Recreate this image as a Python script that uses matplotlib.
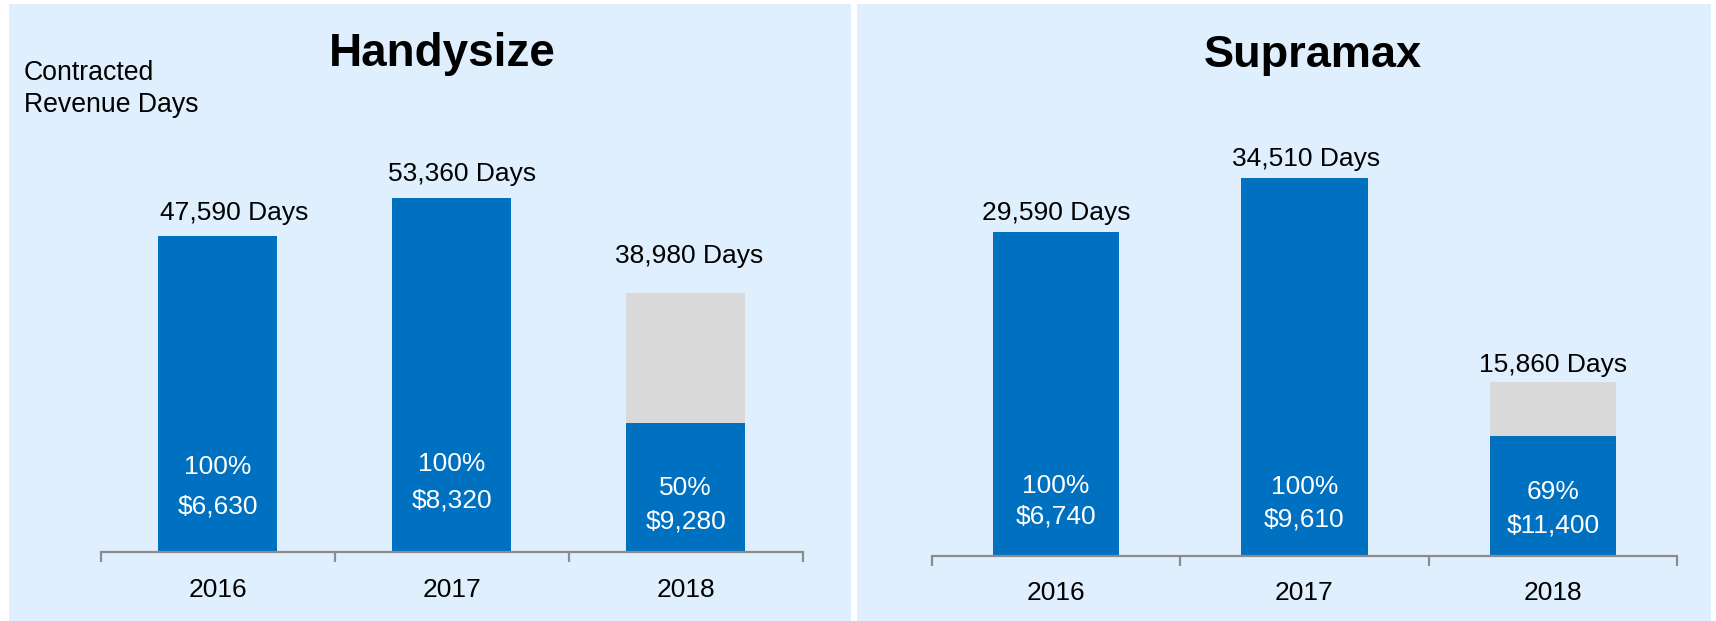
import matplotlib
matplotlib.use("Agg")
import matplotlib.pyplot as plt
from matplotlib.patches import Rectangle

plt.rcParams['font.family'] = ['Liberation Sans', 'DejaVu Sans']

# ---- data ----
years = ["2016", "2017", "2018"]
handy_days = [47590, 53360, 38980]
handy_pct = [100, 100, 50]
handy_rate = [6630, 8320, 9280]
supra_days = [29590, 34510, 15860]
supra_pct = [100, 100, 69]
supra_rate = [6740, 9610, 11400]

W, H = 1716, 621
BLUE = "#0070C0"
GREY = "#D9D9D9"
PANEL = "#DFEFFE"
AXIS = "#8C8C8C"

fig = plt.figure(figsize=(W / 100, H / 100), dpi=100, facecolor="white")


def fx(x):
    return x / W


def fy(y):
    return 1 - y / H


# light panel backgrounds, kept behind the axes
for x0, x1 in [(9, 851), (857, 1711)]:
    fig.patches.append(Rectangle((fx(x0), 0), fx(x1) - fx(x0), fy(4),
                                 transform=fig.transFigure, facecolor=PANEL,
                                 edgecolor="none", zorder=-10))


def panel(rect_px, ymax, days, pct, rate, top_dx, top_off, in1, in2, year_off):
    x0, x1, ybot, ytop = rect_px
    ax = fig.add_axes([fx(x0), fy(ybot), fx(x1) - fx(x0), (ybot - ytop) / H])
    ax.set_facecolor("none")
    ax.set_zorder(1)
    xs = list(range(len(years)))
    contracted = [d * p / 100 for d, p in zip(days, pct)]
    open_days = [d - c for d, c in zip(days, contracted)]
    ax.bar(xs, contracted, width=0.51, color=BLUE, zorder=2)
    ax.bar(xs, open_days, bottom=contracted, width=0.51, color=GREY, zorder=2)
    ax.set_xlim(-0.5, 2.5)
    ax.set_ylim(0, ymax)
    for s in ["left", "right", "top"]:
        ax.spines[s].set_visible(False)
    ax.spines["bottom"].set_color(AXIS)
    ax.spines["bottom"].set_linewidth(1.6)
    ax.spines["bottom"].set_zorder(3)
    ax.set_yticks([])
    ax.set_xticks([-0.5, 0.5, 1.5, 2.5])
    ax.set_xticklabels([])
    ax.tick_params(axis="x", direction="out", length=7.2, width=1.6, color=AXIS)
    for i in xs:
        ax.annotate(f"{days[i]:,} Days", xy=(i, days[i]),
                    xytext=(top_dx[i] * 0.72, top_off[i] * 0.72),
                    textcoords="offset points", ha="center", va="baseline",
                    fontsize=19, color="black")
        ax.annotate(f"{pct[i]}%", xy=(i, 0), xytext=(0, in1[i] * 0.72),
                    textcoords="offset points", ha="center", va="baseline",
                    fontsize=19, color="white", zorder=4)
        ax.annotate(f"${rate[i]:,}", xy=(i, 0), xytext=(0, in2[i] * 0.72),
                    textcoords="offset points", ha="center", va="baseline",
                    fontsize=19, color="white", zorder=4)
        ax.annotate(years[i], xy=(i, 0), xytext=(0, -year_off * 0.72),
                    textcoords="offset points", ha="center", va="baseline",
                    fontsize=19, color="black", annotation_clip=False)
    return ax


panel((100.8, 802.8, 552, 50), 502 / (316 / 47590), handy_days, handy_pct, handy_rate,
      [16, 10, 3], [16, 17, 30], [78.2, 81.3, 57.2], [38.5, 44.5, 23], 44.7)
panel((932, 1677, 556, 50), 506 / (324 / 29590), supra_days, supra_pct, supra_rate,
      [0, 1.5, 0], [12, 12, 10], [62.9, 61.8, 56.8], [32.4, 30, 23.7], 44)

fig.text(fx(442.5), fy(66), "Handysize", ha="center", va="baseline",
         fontsize=33, fontweight="bold")
fig.text(fx(1313), fy(67), "Supramax", ha="center", va="baseline",
         fontsize=32.5, fontweight="bold")
fig.text(fx(24), fy(80), "Contracted", ha="left", va="baseline", fontsize=19.2)
fig.text(fx(24), fy(111.7), "Revenue Days", ha="left", va="baseline", fontsize=19.2)

fig.savefig("out.png", dpi=100, facecolor="white")
